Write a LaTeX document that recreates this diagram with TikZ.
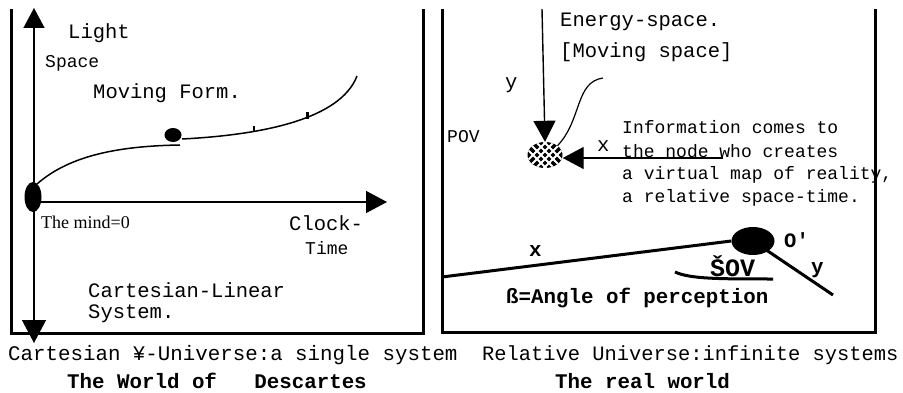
\documentclass[tikz,border=0pt]{standalone}
\usepackage{fontspec}
\newfontfamily\cour{Liberation Mono}
\newfontfamily\tms{Liberation Serif}
\usetikzlibrary{arrows.meta,shapes.geometric}
\begin{document}
\begin{tikzpicture}[x=1pt,y=-1pt,
  txt/.style={anchor=west,inner sep=0pt,font=\cour\fontsize{20.5}{24}\selectfont},
  smalltxt/.style={anchor=west,inner sep=0pt,font=\cour\fontsize{18}{21}\selectfont},
  boldtxt/.style={anchor=west,inner sep=0pt,font=\cour\bfseries\fontsize{20.8}{24}\selectfont},
  frame/.style={line width=3pt},
  axisline/.style={line width=1.4pt},
  tip/.style={-{Triangle[length=21pt,width=22pt]}},
  curveline/.style={line width=1.5pt},
  heavy/.style={line width=3pt},
  blob/.style={ellipse,fill=black,inner sep=0pt},
]
\useasboundingbox (0,0) rectangle (903,393);
% frames
\draw[frame] (11,9) -- (11,333.5) -- (423,333.5) -- (423,9);
\draw[frame] (442,9) -- (442,332) -- (875,332) -- (875,9);

% ----- left panel -----
\coordinate (ytop) at (34,8);
\coordinate (ybot) at (34,343);
\coordinate (org) at (34,202);
\coordinate (xend) at (387,202);
\draw[axisline,{Triangle[length=20pt,width=21pt]}-{Triangle[length=23pt,width=24pt]}] (ytop) -- (ybot);
\draw[axisline,tip] (org) -- (xend);
\node[blob,minimum width=17pt,minimum height=30pt] (mind) at (33,197) {};
\node[blob,minimum width=17pt,minimum height=14pt] (dot) at (173,135) {};
\coordinate (c1e) at (180,145);
\coordinate (c2s) at (182,139);
\coordinate (c2e) at (357,76);
\draw[curveline] (37,184) .. controls (70,155) and (120,146) .. (c1e);
\draw[curveline] (c2s) .. controls (260,135) and (340,120) .. (c2e);
\draw[line width=1.5pt] (254,126) -- (254,132);
\draw[line width=3pt] (307,112) -- (307,119);

\node[txt] (light) at (68,33) {Light};
\node[smalltxt] (space) at (45,63) {Space};
\node[txt] (moving) at (93,93) {Moving Form.};
\node[anchor=west,inner sep=0pt,font=\tms\fontsize{18}{21}\selectfont] (mindlbl) at (41,222) {The mind=0};
\node[txt] (clock) at (289,223) {Clock-};
\node[smalltxt] (time) at (305,248) {Time};
\node[txt] (cart) at (88,290) {Cartesian-Linear};
\node[txt] (sys) at (88,314) {System.};

% ----- right panel -----
\coordinate (vtop) at (542,9);
\node[blob,minimum width=35pt,minimum height=26pt,
  path picture={
    \foreach \d in {-12,-4,4,12}{
      \draw[white,line width=1.8pt] ([xshift=\d pt]path picture bounding box.center) ++(-14pt,-14pt) -- ++(28pt,28pt);
      \draw[white,line width=1.8pt] ([xshift=\d pt]path picture bounding box.center) ++(-14pt,14pt) -- ++(28pt,-28pt);
    }
  }] (node) at (545,155) {};
\coordinate (hstart) at (723,158);
\draw[axisline,tip] (vtop) -- (node.north);
\draw[axisline,tip] (hstart) -- (node.east |- hstart);
\coordinate (wave) at (603,78);
\draw[line width=1.2pt] (wave) .. controls (575,82) and (582,120) .. (node.north east);

\node[txt] (energy) at (560,22) {Energy-space.};
\node[txt] (mspace) at (560,52) {[Moving space]};
\node[txt] (ylbl) at (505,85) {y};
\node[smalltxt] (pov) at (447,137) {POV};
\node[txt] (xlbl) at (597,146) {x};
\node[smalltxt] (info1) at (622,127) {Information comes to};
\node[smalltxt] (info2) at (622,151) {the node who creates};
\node[smalltxt] (info3) at (622,175) {a virtual map of reality,};
\node[smalltxt] (info4) at (622,198) {a relative space-time.};
\draw[frame] (875,160) -- (875,190);

\node[blob,minimum width=43pt,minimum height=28pt] (oprime) at (753,241) {};
\coordinate (xl) at (442,277);
\coordinate (yl) at (833,295);
\draw[heavy] (xl) -- (oprime.west);
\draw[heavy] (oprime.south east) ++(-2pt,1pt) coordinate (ys) -- (yl);
\coordinate (arcs) at (675,272);
\coordinate (arce) at (773,279);
\draw[heavy] (arcs) .. controls (690,279) and (720,279) .. (arce);

\node[boldtxt] (bx) at (529,251) {x};
\node[anchor=west,inner sep=0pt,font=\cour\bfseries\fontsize{20.5}{24}\selectfont] (olbl) at (784,240) {O'};
\node[anchor=west,inner sep=0pt,font=\cour\bfseries\fontsize{25}{28}\selectfont] (sov) at (710,266) {ŠOV};
\node[boldtxt] (by) at (811,270) {y};
\node[boldtxt] (beta) at (506,298) {ß=Angle of perception};

% captions
\node[txt,font=\cour\fontsize{20.8}{24}\selectfont] (cap1) at (8,355) {Cartesian ¥-Universe:a single system};
\node[txt,font=\cour\fontsize{20.4}{24}\selectfont] (cap2) at (482,355) {Relative Universe:infinite systems};
\node[boldtxt] (t1) at (67,381) {The World of\ \ \ Descartes};
\node[boldtxt] (t2) at (555,381) {The real world};
\end{tikzpicture}
\end{document}
